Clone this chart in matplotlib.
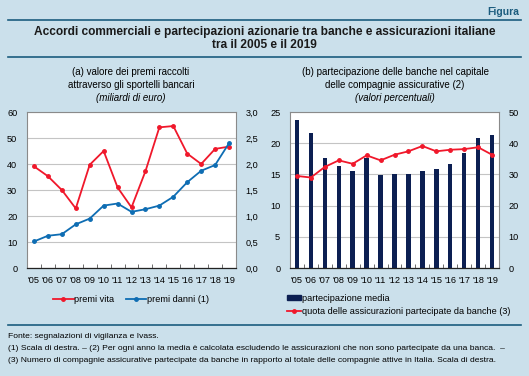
import numpy as np
import matplotlib
matplotlib.use("Agg")
import matplotlib.pyplot as plt
from matplotlib.lines import Line2D

plt.rcParams['font.family'] = ['Liberation Sans', 'DejaVu Sans']

# data
years = ["'05", "'06", "'07", "'08", "'09", "'10", "'11", "'12", "'13", "'14",
         "'15", "'16", "'17", "'18", "'19"]
premi_vita = [39.1, 35.3, 30.0, 22.9, 39.7, 45.0, 31.0, 23.3, 37.2, 54.1,
              54.6, 44.0, 40.0, 45.8, 46.7]
premi_danni = [0.51, 0.62, 0.65, 0.84, 0.95, 1.20, 1.24, 1.08, 1.13, 1.20,
               1.37, 1.65, 1.87, 1.98, 2.40]
partecipazione_media = [23.7, 21.7, 17.7, 16.3, 15.6, 17.7, 14.9, 15.0, 15.1,
                        15.5, 15.8, 16.6, 18.4, 20.8, 21.3]
quota_assicurazioni = [29.5, 29.0, 32.4, 34.5, 33.4, 36.1, 34.5, 36.3, 37.4,
                       39.1, 37.4, 37.9, 38.1, 38.7, 36.3]

bg = '#cbe0eb'
teal = '#1b5c7e'
red = '#f0182b'
blue = '#0e6db3'
navy = '#0c1f52'
grid = '#c4c4c4'

W, H = 529, 376
fig = plt.figure(figsize=(W / 100, H / 100), dpi=100, facecolor=bg)


def fx(px):
    return px / W


def fy(py):
    return 1 - py / H


def hline(y, x0=8, x1=521, color=teal, lw=1.2):
    fig.add_artist(Line2D([fx(x0), fx(x1)], [fy(y), fy(y)], color=color, lw=lw,
                          transform=fig.transFigure))


hline(19.5)
hline(57)
hline(325)
fig.text(fx(519), fy(12), 'Figura', ha='right', va='center', fontsize=7.5,
         fontweight='bold', color=teal)
fig.text(0.5, fy(32), 'Accordi commerciali e partecipazioni azionarie tra banche e assicurazioni italiane',
         ha='center', va='center', fontsize=8.6, fontweight='bold', color='#1a1a1a')
fig.text(0.5, fy(45), 'tra il 2005 e il 2019', ha='center', va='center',
         fontsize=8.6, fontweight='bold', color='#1a1a1a')

x = np.arange(len(years))


def style(ax):
    ax.set_facecolor('white')
    ax.set_xlim(-0.5, len(years) - 0.5)
    for s in ['top', 'left', 'right']:
        ax.spines[s].set_color('#8a8a8a')
        ax.spines[s].set_linewidth(0.8)
    ax.spines['bottom'].set_color('#222222')
    ax.spines['bottom'].set_linewidth(0.9)
    ax.set_xticks(x)
    ax.set_xticklabels(years, fontsize=6.6)
    ax.set_xticks(np.arange(-0.5, len(years), 1), minor=True)
    ax.tick_params(axis='x', which='major', length=0, pad=6)
    ax.tick_params(axis='x', which='minor', length=3, direction='in', color='#555555')
    ax.tick_params(axis='y', length=0, labelsize=6.6, pad=7)
    ax.yaxis.grid(True, color=grid, lw=0.8)
    ax.set_axisbelow(True)


# panel (a)
ax1 = fig.add_axes([fx(27), fy(268), fx(236) - fx(27), fy(112) - fy(268)])
style(ax1)
ax1.set_ylim(0, 60)
ax1.set_yticks(range(0, 61, 10))
ax1.plot(x, premi_vita, color=red, lw=1.3, marker='o', ms=2.5, label='premi vita')
ax1b = ax1.twinx()
ax1b.set_ylim(0, 3)
ax1b.set_yticks(np.arange(0, 3.01, 0.5))
ax1b.set_yticklabels([f'{v:.1f}'.replace('.', ',') for v in np.arange(0, 3.01, 0.5)])
ax1b.tick_params(axis='y', length=0, labelsize=6.6, pad=7)
for s in ax1b.spines.values():
    s.set_visible(False)
ax1b.plot(x, premi_danni, color=blue, lw=1.3, marker='o', ms=2.5, label='premi danni (1)')
fig.text(fx(131), fy(72), '(a) valore dei premi raccolti', ha='center', va='center', fontsize=7)
fig.text(fx(131), fy(85), 'attraverso gli sportelli bancari', ha='center', va='center', fontsize=7)
fig.text(fx(131), fy(98), '(miliardi di euro)', ha='center', va='center', fontsize=7,
         style='italic')

h = [Line2D([], [], color=red, lw=1.3, marker='o', ms=2.5),
     Line2D([], [], color=blue, lw=1.3, marker='o', ms=2.5)]
fig.legend(h, ['premi vita', 'premi danni (1)'], loc='center', ncol=2,
           bbox_to_anchor=(fx(131), fy(300)), frameon=False, fontsize=6.6,
           handlelength=2.2, handletextpad=0.1, columnspacing=1.2)

# panel (b)
ax2 = fig.add_axes([fx(290), fy(268), fx(499) - fx(290), fy(112) - fy(268)])
style(ax2)
ax2.set_ylim(0, 25)
ax2.set_yticks(range(0, 26, 5))
ax2.bar(x, partecipazione_media, width=0.32, color=navy, zorder=2)
ax2b = ax2.twinx()
ax2b.set_ylim(0, 50)
ax2b.set_yticks(range(0, 51, 10))
ax2b.tick_params(axis='y', length=0, labelsize=6.6, pad=7)
for s in ax2b.spines.values():
    s.set_visible(False)
ax2b.plot(x, quota_assicurazioni, color=red, lw=1.3, marker='o', ms=2.5)
fig.text(fx(395), fy(72), '(b) partecipazione delle banche nel capitale', ha='center',
         va='center', fontsize=7)
fig.text(fx(395), fy(85), 'delle compagnie assicurative (2)', ha='center', va='center',
         fontsize=7)
fig.text(fx(395), fy(98), '(valori percentuali)', ha='center', va='center', fontsize=7,
         style='italic')

h2 = [plt.Rectangle((0, 0), 1, 1, color=navy),
      Line2D([], [], color=red, lw=1.3, marker='o', ms=2.5)]
fig.legend(h2, ['partecipazione media', 'quota delle assicurazioni partecipate da banche (3)'],
           loc='upper left', bbox_to_anchor=(fx(282), fy(289)), frameon=False,
           fontsize=6.6, handlelength=1.6, handleheight=0.5, handletextpad=0.1,
           labelspacing=0.5, borderpad=0)

# notes
notes = ['Fonte: segnalazioni di vigilanza e Ivass.',
         "(1) Scala di destra. \u2013 (2) Per ogni anno la media \u00e8 calcolata escludendo le assicurazioni che non sono partecipate da una banca.  \u2013",
         '(3) Numero di compagnie assicurative partecipate da banche in rapporto al totale delle compagnie attive in Italia. Scala di destra.']
for i, t in enumerate(notes):
    fig.text(fx(8), fy(336 + i * 12), t, ha='left', va='center', fontsize=6.1)

fig.savefig('out.png', dpi=100, facecolor=bg)
